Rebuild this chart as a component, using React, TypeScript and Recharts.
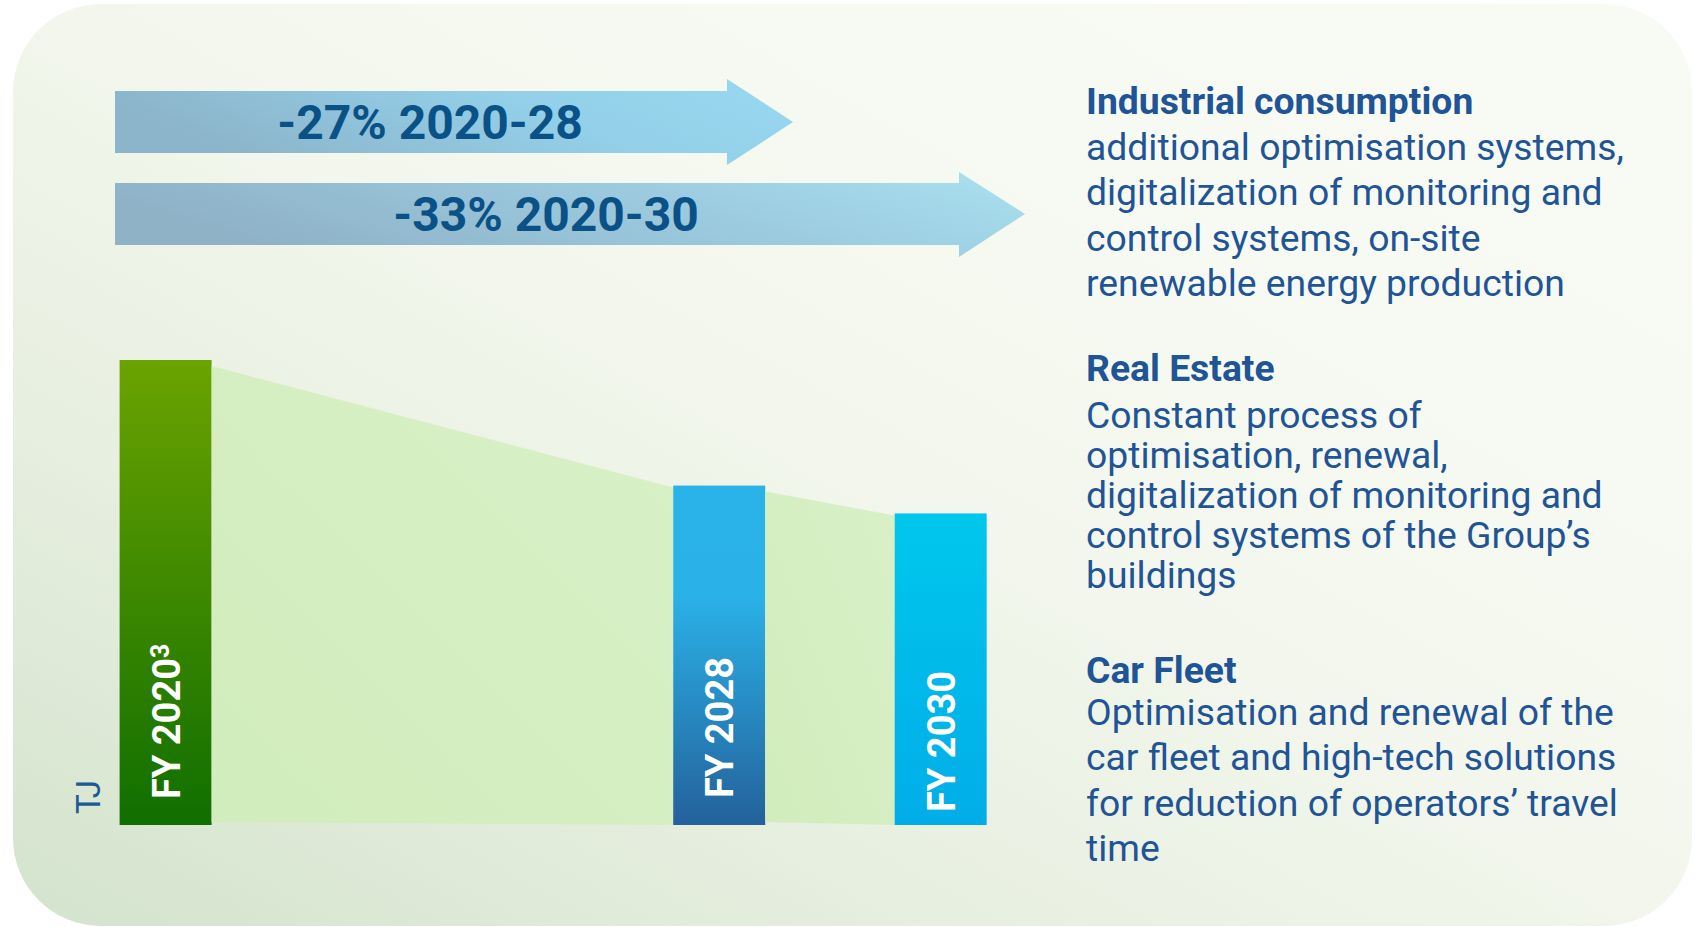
import React from 'react';
import { ComposedChart, Bar, XAxis, YAxis, Label } from 'recharts';

// energy consumption index, FY 2020 = 100 (unit shown on the chart: TJ)
// empty slots keep the uneven spacing of the original graphic
const periods = ['FY 2020', '', '', '', '', 'FY 2028', '', 'FY 2030'];
const footnotes = ['3', '', '', '', '', '', '', ''];
const consumption = [100, null, null, null, null, 73, null, 67];

const targetLabels = ['2020-28', '2020-30'];
const targetPeriods = ['FY 2028', 'FY 2030'];

const sectionTitles = ['Industrial consumption', 'Real Estate', 'Car Fleet'];
const industrialLines = [
    'additional optimisation systems,',
    'digitalization of monitoring and',
    'control systems, on-site',
    'renewable energy production',
];
const realEstateLines = [
    'Constant process of',
    'optimisation, renewal,',
    'digitalization of monitoring and',
    'control systems of the Group\u2019s',
    'buildings',
];
const carFleetLines = [
    'Optimisation and renewal of the',
    'car fleet and high-tech solutions',
    'for reduction of operators\u2019 travel',
    'time',
];

const data = periods.map((period, i) => ({
    period,
    note: footnotes[i],
    value: consumption[i],
}));

const BAR_FILLS: Record<string, [string, string][]> = {
    'FY 2020': [['0', '#6ba300'], ['1', '#106e00']],
    'FY 2028': [['0', '#2ab3e9'], ['0.32', '#2ab2e8'], ['1', '#24619b']],
    'FY 2030': [['0', '#00c7ec'], ['1', '#01ade8']],
};
// the FY 2030 label sits a little lower in its bar
const LABEL_LIFT: Record<string, number> = { 'FY 2020': 26, 'FY 2028': 27, 'FY 2030': 13 };
const BLUE_TEXT = '#1f5496';
const FONT = 'Roboto, "Noto Sans", sans-serif';

// geometry of the bars already drawn, so each bar can link back to the previous one
const drawnBars: Record<number, { x: number; y: number; w: number; h: number }> = {};

function EnergyBar(props: any) {
    const { x, y, width, height, index, payload } = props;
    if (!payload || payload.value == null || !height) return <g />;
    drawnBars[index] = { x, y, w: width, h: height };
    const before = Object.keys(drawnBars).map(Number).filter((k) => k < index);
    const prev = before.length ? drawnBars[Math.max(...before)] : null;
    const bottom = y + height;
    const cx = x + width / 2;
    const gid = 'barFill' + index;
    const stops = BAR_FILLS[payload.period] || [['0', '#6ba300'], ['1', '#106e00']];
    const tx = cx + 14;
    const ty = bottom - (LABEL_LIFT[payload.period] ?? 26);
    return (
        <g>
            <defs>
                <linearGradient id={gid} x1="0" y1="0" x2="0" y2="1">
                    {stops.map(([o, c]) => <stop key={o} offset={o} stopColor={c} />)}
                </linearGradient>
                <linearGradient id={'link' + index} x1="0" y1="1" x2="1" y2="0">
                    <stop offset="0" stopColor="#d1ecbd" />
                    <stop offset="1" stopColor="#d9f0c6" />
                </linearGradient>
            </defs>
            {prev && (
                <polygon
                    points={`${prev.x + prev.w},${prev.y + 6} ${x},${y + 2} ${x},${bottom} ${prev.x + prev.w},${prev.y + prev.h - 3}`}
                    fill={`url(#link${index})`}
                />
            )}
            <rect x={x} y={y} width={width} height={height} fill={`url(#${gid})`} />
            <text
                x={tx}
                y={ty}
                transform={`rotate(-90 ${tx} ${ty})`}
                fill="#ffffff"
                fontFamily={FONT}
                fontWeight={700}
                fontSize={38}
            >
                {payload.period}
                {payload.note && <tspan fontSize={25} dy={-11}>{payload.note}</tspan>}
            </text>
        </g>
    );
}

const UnitLabel = (props: any) => {
    const { viewBox } = props;
    const cx = viewBox.x + viewBox.width / 2;
    const cy = viewBox.y + viewBox.height - 28;
    return (
        <text
            x={cx}
            y={cy}
            transform={`rotate(-90 ${cx} ${cy})`}
            textAnchor="middle"
            dominantBaseline="central"
            fill="#1c5a95"
            fontFamily={FONT}
            fontSize={33}
        >
            TJ
        </text>
    );
};

// reduction arrows above the bars
const arrowBoxes = [
    { x0: 115, top: 91, bottom: 153, bodyEnd: 727, headTop: 79, headBottom: 165, tip: 793 },
    { x0: 115, top: 183, bottom: 245, bodyEnd: 959, headTop: 172, headBottom: 257, tip: 1025 },
];
const arrowFills = [
    ['#8cb4ca', '#93cfe8', '#98d9f0'],
    ['#8fb2c7', '#9ccbe0', '#a9e1ef'],
];

function Arrows() {
    const base = consumption[0] as number;
    return (
        <svg width={1695} height={927} style={{ position: 'absolute', left: 0, top: 0, pointerEvents: 'none' }}>
            <defs>
                {arrowFills.map((c, i) => (
                    <linearGradient key={i} id={'arrowFill' + i} x1="0" y1="0.3" x2="1" y2="0">
                        <stop offset="0" stopColor={c[0]} />
                        <stop offset="0.55" stopColor={c[1]} />
                        <stop offset="1" stopColor={c[2]} />
                    </linearGradient>
                ))}
            </defs>
            {arrowBoxes.map((a, i) => {
                const mid = (a.top + a.bottom) / 2;
                const v = consumption[periods.indexOf(targetPeriods[i])] as number;
                const pct = Math.round((1 - v / base) * 100);
                return (
                    <g key={i}>
                        <polygon
                            points={`${a.x0},${a.top} ${a.bodyEnd},${a.top} ${a.bodyEnd},${a.headTop} ${a.tip},${mid} ${a.bodyEnd},${a.headBottom} ${a.bodyEnd},${a.bottom} ${a.x0},${a.bottom}`}
                            fill={`url(#arrowFill${i})`}
                        />
                        <text
                            x={(a.x0 + a.bodyEnd) / 2 + 9}
                            y={mid + 17}
                            textAnchor="middle"
                            fill="#0a5187"
                            fontFamily={FONT}
                            fontWeight={700}
                            fontSize={48}
                        >
                            {`-${pct}% ${targetLabels[i]}`}
                        </text>
                    </g>
                );
            })}
        </svg>
    );
}

const sections = [
    { lines: industrialLines, title: 114, gap: 46, step: 45.4 },
    { lines: realEstateLines, title: 381, gap: 47, step: 40 },
    { lines: carFleetLines, title: 683, gap: 42, step: 45.4 },
];

function Notes() {
    return (
        <svg width={1695} height={927} style={{ position: 'absolute', left: 0, top: 0, pointerEvents: 'none' }}>
            {sections.map((s, i) => (
                <g key={i} fontFamily={FONT} fontSize={37.3} fill={BLUE_TEXT}>
                    <text x={1086} y={s.title} fontWeight={700}>{sectionTitles[i]}</text>
                    {s.lines.map((line, j) => (
                        <text key={j} x={1086} y={s.title + s.gap + j * s.step}>{line}</text>
                    ))}
                </g>
            ))}
        </svg>
    );
}

export default function App() {
    return (
        <div style={{ position: 'absolute', left: 0, top: 0, width: 1695, height: 927, overflow: 'hidden', background: '#ffffff' }}>
            <div
                style={{
                    position: 'absolute',
                    left: 13,
                    top: 4,
                    width: 1679,
                    height: 922,
                    borderRadius: 88,
                    background: 'linear-gradient(to top right, #d3e3cc 0%, #e7efe0 28%, #f2f6ec 50%, #f7faf2 72%, #f8faf4 100%)',
                }}
            />
            <div style={{ position: 'absolute', left: 0, top: 0 }}>
                <ComposedChart
                    width={1020}
                    height={927}
                    data={data}
                    margin={{ top: 360, right: 23.6, bottom: 102, left: 65.6 }}
                >
                    <XAxis dataKey="period" type="category" hide />
                    <YAxis
                        domain={[0, 100]}
                        width={45}
                        tick={false}
                        axisLine={false}
                        tickLine={false}
                    >
                        <Label content={<UnitLabel />} />
                    </YAxis>
                    <Bar
                        dataKey="value"
                        barSize={92}
                        isAnimationActive={false}
                        shape={<EnergyBar />}
                    />
                </ComposedChart>
            </div>
            <Arrows />
            <Notes />
        </div>
    );
}
